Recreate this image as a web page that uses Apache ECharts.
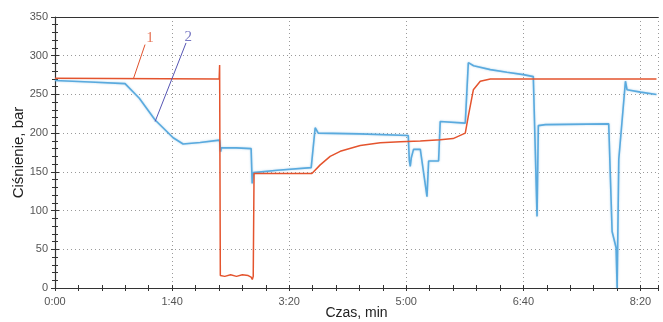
<!DOCTYPE html>
<html>
<head>
<meta charset="utf-8">
<script src="https://cdn.jsdelivr.net/npm/echarts@6/dist/echarts.min.js"></script>
<style>html,body{margin:0;padding:0;background:#fff}#c{width:663px;height:322px}</style>
</head>
<body>
<div id="c"></div>
<script>
// time in seconds, pressure in bar
var redTime = [0,140.2,140.6,141.2,145,150,155,160,165,167.5,168.5,169.3,170,219.4,220.8,226.5,235,243.6,260.7,277.8,294.9,312,329,340,350.4,353,357.3,363.2,371.8,513.7];
var redPressure = [271,270,288,16,15,17,15,17,16,14,11,15,148,148,149,159,170,176.5,184,187.5,189,190,191.5,193,200,222,256,267,270,270];

var blueTime = [0,30,59.8,72,85.5,100.9,109.4,124,140.5,141,141.5,142,155,167.5,168.4,169.5,190,218.8,220.3,222.2,224.8,260,301.7,302.6,303.4,304.3,306.2,312,317.7,319.1,327.6,329,330.5,350.4,353,357.5,371.8,386,400,408.5,411.7,412.8,418.8,472.9,475.8,479.2,480.1,481.5,487.2,488.6,500,513.7];
var bluePressure = [268,266,264,245,217,194,186,188,191,185,176,181,181,180,135,149,152,155.5,157,207,200,199,197,165,157,168,179,179,118,164,164,215,217,213,291,287,282,278.6,275.6,273,92.5,209.7,211,212,73,52,0,166,267,256,253,250];

var xTicks = [0,100,200,300,400,500];
var yTicks = [0,50,100,150,200,250,300,350];

var annoLabels = ['1','2'];
var annoLabelPos = [[81.2,323],[113.9,324.6]];
var annoLeader = [[[76.9,314.4],[66.9,270]],[[111.9,316.5],[85.5,215]]];
var annoColors = ['#e0512c','#5656b4'];

function zip(a,b){var r=[];for(var i=0;i<a.length;i++)r.push([a[i],b[i]]);return r;}
function fmt(v){var m=Math.floor(v/60),s=Math.round(v-m*60);return m+':'+(s<10?'0':'')+s;}

var chart = echarts.init(document.getElementById('c'), null, {renderer:'canvas'});
var axisCol = '#333';
var baseX = {type:'value',min:0,max:515,interval:100};
var baseY = {type:'value',min:0,max:350,interval:50};

var series = [
  {type:'line',name:'2',data:zip(blueTime,bluePressure),showSymbol:false,symbol:'none',
   lineStyle:{color:'#5aaade',width:1.6,shadowColor:'rgba(88,168,220,0.5)',shadowBlur:2},z:3},
  {type:'line',name:'1',data:zip(redTime,redPressure),showSymbol:false,symbol:'none',
   lineStyle:{color:'#e4542e',width:1.5},z:4}
];
for (var i=0;i<annoLabels.length;i++){
  series.push({type:'line',data:annoLeader[i],showSymbol:false,symbol:'none',lineStyle:{color:annoColors[i],width:1},z:5,silent:true});
  series.push({type:'scatter',data:[annoLabelPos[i]],symbolSize:0,silent:true,z:6,
    label:{show:true,position:'inside',formatter:annoLabels[i],color:annoColors[i],fontFamily:'Liberation Serif',fontSize:15}});
}

chart.setOption({
  animation:false,
  backgroundColor:'#fff',
  grid:{left:55,right:5,top:17,bottom:34,containLabel:false,outerBoundsMode:'none'},
  xAxis:[
    Object.assign({},baseX,{position:'bottom',
      axisLine:{show:true,lineStyle:{color:axisCol,width:1.2}},
      axisTick:{show:true,inside:false,length:3,lineStyle:{color:axisCol}},
      minorTick:{show:true,splitNumber:5,length:3,lineStyle:{color:axisCol}},
      axisLabel:{show:true,formatter:function(v){return fmt(v);},color:'#555',fontSize:11,fontFamily:'Liberation Sans',margin:8},
      splitLine:{show:true,lineStyle:{color:'#9a9a9a',type:[1,3],width:1}},
      name:'Czas, min',nameLocation:'middle',nameGap:18,nameMoveOverlap:false,
      nameTextStyle:{color:'#222',fontSize:14,fontFamily:'Liberation Sans'}}),
    Object.assign({},baseX,{position:'bottom',
      axisLine:{show:false},
      axisTick:{show:true,inside:true,length:3,lineStyle:{color:axisCol}},
      minorTick:{show:true,splitNumber:5,length:3,lineStyle:{color:axisCol}},
      axisLabel:{show:false},splitLine:{show:false}}),
    Object.assign({},baseX,{position:'top',
      axisLine:{show:true,lineStyle:{color:axisCol,width:1.2}},
      axisTick:{show:false},axisLabel:{show:false},splitLine:{show:false}})
  ],
  yAxis:[
    Object.assign({},baseY,{position:'left',
      axisLine:{show:true,lineStyle:{color:axisCol,width:1.2}},
      axisTick:{show:true,inside:false,length:4,lineStyle:{color:axisCol}},
      minorTick:{show:true,splitNumber:5,length:3,lineStyle:{color:axisCol}},
      axisLabel:{show:true,color:'#555',fontSize:11,fontFamily:'Liberation Sans',margin:7},
      splitLine:{show:true,lineStyle:{color:'#9a9a9a',type:[1,3],width:1}},
      name:'Ciśnienie, bar',nameLocation:'middle',nameGap:29,nameRotate:90,nameMoveOverlap:false,
      nameTextStyle:{color:'#222',fontSize:15,fontFamily:'Liberation Sans'}}),
    Object.assign({},baseY,{position:'left',
      axisLine:{show:false},
      axisTick:{show:true,inside:true,length:4,lineStyle:{color:axisCol}},
      minorTick:{show:true,splitNumber:5,length:3,lineStyle:{color:axisCol}},
      axisLabel:{show:false},splitLine:{show:false}})
  ],
  series:series
});
</script>
</body>
</html>
